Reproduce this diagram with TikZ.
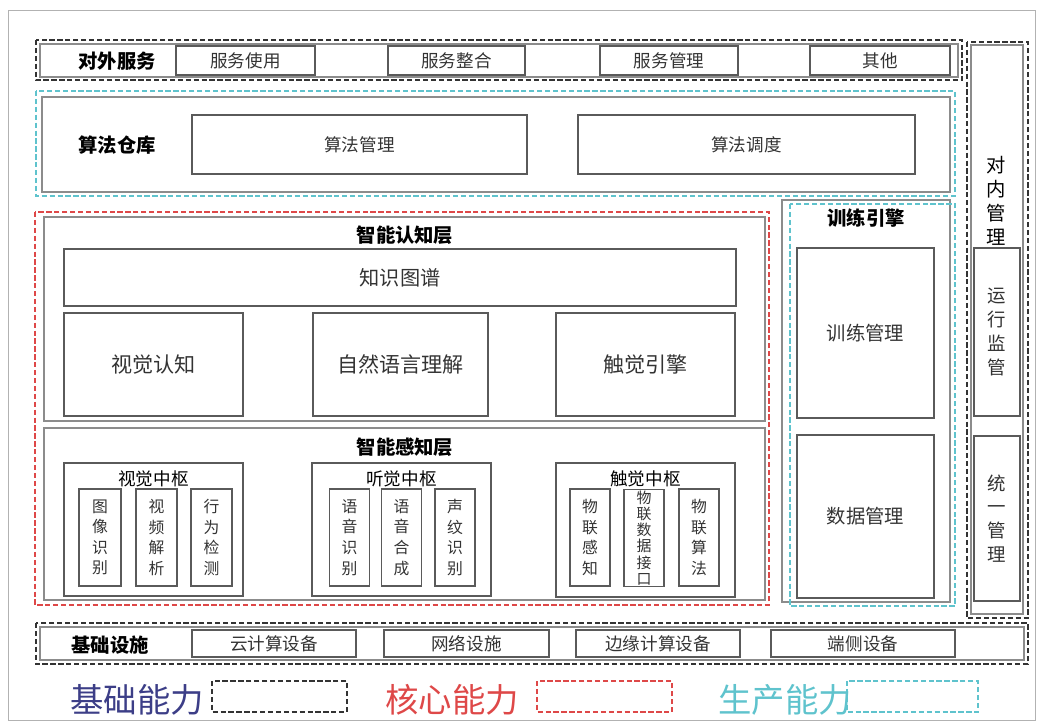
\documentclass[tikz,border=0pt]{standalone}
\usepackage{fontspec}
\setmainfont{Noto Sans CJK SC}
\usepackage{tikz}
\usetikzlibrary{positioning}
\definecolor{redline}{RGB}{222,72,72}
\definecolor{cyanline}{RGB}{95,195,205}
\definecolor{navytext}{RGB}{60,62,135}
\definecolor{boxline}{RGB}{90,90,90}
\tikzset{bx/.style 2 args={draw=boxline,line width=0.8pt,minimum width=#1*0.02cm,minimum height=#2*0.02cm,inner sep=0pt,font=\fontsize{10}{12}\selectfont,text=black!80}}
\tikzset{vbx/.style 2 args={bx={#1}{#2},align=center,font=\fontsize{9}{11.7}\selectfont}}
\tikzset{mbx/.style 2 args={bx={#1}{#2},align=center,font=\fontsize{10.5}{13.5}\selectfont}}
\tikzset{lay/.style={draw=black!45,line width=0.9pt}}
\tikzset{blk/.style={draw=black!80,line width=1pt,dash pattern=on 3pt off 1.5pt}}
\tikzset{rd/.style={blk,draw=redline}}
\tikzset{cy/.style={blk,draw=cyanline}}
\tikzset{ttl/.style={font=\bfseries\fontsize{11}{13}\selectfont}}
\tikzset{lgd/.style={font=\fontsize{19}{22}\selectfont}}

\begin{document}
\begin{tikzpicture}[x=0.02cm,y=-0.02cm]
\useasboundingbox (0,0) rectangle (1037,722);
\draw[black!30] (8,10) rectangle (1035,720);

% external services
\draw[blk] (36,40) rectangle (962,80);
\draw[lay] (40,44) rectangle (958,77);
\node(Svc) at (117,61) [ttl] {对外服务};
\node(SvcUse) at (245.5,60.5) [bx={139}{29}] {服务使用};
\node(SvcInt) at (456.5,60.5) [bx={137}{29}] {服务整合};
\node(SvcMan) at (669,60.5) [bx={138}{29}] {服务管理};
\node(SvcOth) at (880,60.5) [bx={140}{29}] {其他};

% algorithm store
\draw[cy] (36,91) rectangle (955,196);
\draw[lay] (42,97) rectangle (950,192);
\node(Alg) at (117,145) [ttl] {算法仓库};
\node(AlgMan) at (359.5,144.5) [bx={335}{59}] {算法管理};
\node(AlgSch) at (746.5,144.5) [bx={337}{59}] {算法调度};

% core layers
\draw[rd] (35,212) rectangle (769,605);
\draw[lay] (44,217) rectangle (765,421);
\draw[lay] (44,428) rectangle (765,600);
\node(Cog) at (405,235) [ttl] {智能认知层};
\node(KG) at (400,277.5) [bx={672}{57},font=\fontsize{11.5}{14}\selectfont] {知识图谱};
\node(VisCog) at (153.5,364.5) [bx={179}{103},font=\fontsize{12}{14}\selectfont] {视觉认知};
\node(NLU) at (400.5,364.5) [bx={175}{103},font=\fontsize{12}{14}\selectfont] {自然语言理解};
\node(TacCog) at (645.5,364.5) [bx={179}{103},font=\fontsize{12}{14}\selectfont] {触觉引擎};
\node(Per) at (405,447) [ttl] {智能感知层};

\node(VisHub) at (153.5,529.5) [bx={179}{133}] {};
\node(VisHubT) at (153.5,479) [font=\fontsize{10}{12}\selectfont] {视觉中枢};
\node(ImgRec) at (100,537.5) [vbx={42}{97}] {图\\像\\识\\别};
\node(VidAna) at (156.5,537.5) [vbx={41}{97}] {视\\频\\解\\析};
\node(ActDet) at (211.5,537.5) [vbx={41}{97}] {行\\为\\检\\测};

\node(AudHub) at (401.5,529.5) [bx={179}{133}] {};
\node(AudHubT) at (401.5,479) [font=\fontsize{10}{12}\selectfont] {听觉中枢};
\node(SpRec) at (349.5,537.5) [vbx={40}{97}] {语\\音\\识\\别};
\node(SpSyn) at (401.5,537.5) [vbx={40}{97}] {语\\音\\合\\成};
\node(VpRec) at (455,537.5) [vbx={40}{97}] {声\\纹\\识\\别};

\node(TacHub) at (645.5,530) [bx={179}{134}] {};
\node(TacHubT) at (645.5,479) [font=\fontsize{10}{12}\selectfont] {触觉中枢};
\node(IotSen) at (590,537.5) [vbx={40}{97}] {物\\联\\感\\知};
\node(IotData) at (644,538) [vbx={40}{97},font=\fontsize{8.5}{9.2}\selectfont] {物\\联\\数\\据\\接\\口};
\node(IotAlg) at (699,537.5) [vbx={40}{97}] {物\\联\\算\\法};

% training engine
\draw[lay] (782,200) rectangle (950,602);
\draw[cy] (790,204) rectangle (955,606);
\node(Train) at (866,218) [ttl] {训练引擎};
\node(TrainMan) at (865.5,333) [bx={137}{170},font=\fontsize{11}{13}\selectfont] {训练管理};
\node(DataMan) at (865.5,516.5) [bx={137}{163},font=\fontsize{11}{13}\selectfont] {数据管理};

% internal management
\draw[blk] (967,42) rectangle (1028,618);
\draw[lay] (971,45) rectangle (1023,614);
\node(Inner) at (996,201) [align=center,font=\fontsize{11}{13.7}\selectfont] {对\\内\\管\\理};
\node(RunSup) at (997,332) [mbx={46}{168}] {运\\行\\监\\管};
\node(UniMan) at (997,518.5) [mbx={46}{165}] {统\\一\\管\\理};

% infrastructure
\draw[blk] (36,623) rectangle (1028,664);
\draw[lay] (40,627) rectangle (1024,660);
\node(Infra) at (110,645) [ttl] {基础设施};
\node(Cloud) at (274,643.5) [bx={164}{27}] {云计算设备};
\node(Net) at (466.5,643.5) [bx={165}{27}] {网络设施};
\node(Edge) at (658,643.5) [bx={164}{27}] {边缘计算设备};
\node(Term) at (863,643.5) [bx={184}{27}] {端侧设备};

% legend
\node(LgBase) at (137,700) [lgd,text=navytext] {基础能力};
\draw[blk] (212,681) rectangle (347,712);
\node(LgCore) at (452,700) [lgd,text=redline] {核心能力};
\draw[rd] (537,681) rectangle (672,712);
\node(LgProd) at (785,700) [lgd,text=cyanline] {生产能力};
\draw[cy] (847,681) rectangle (978,712);
\end{tikzpicture}
\end{document}
